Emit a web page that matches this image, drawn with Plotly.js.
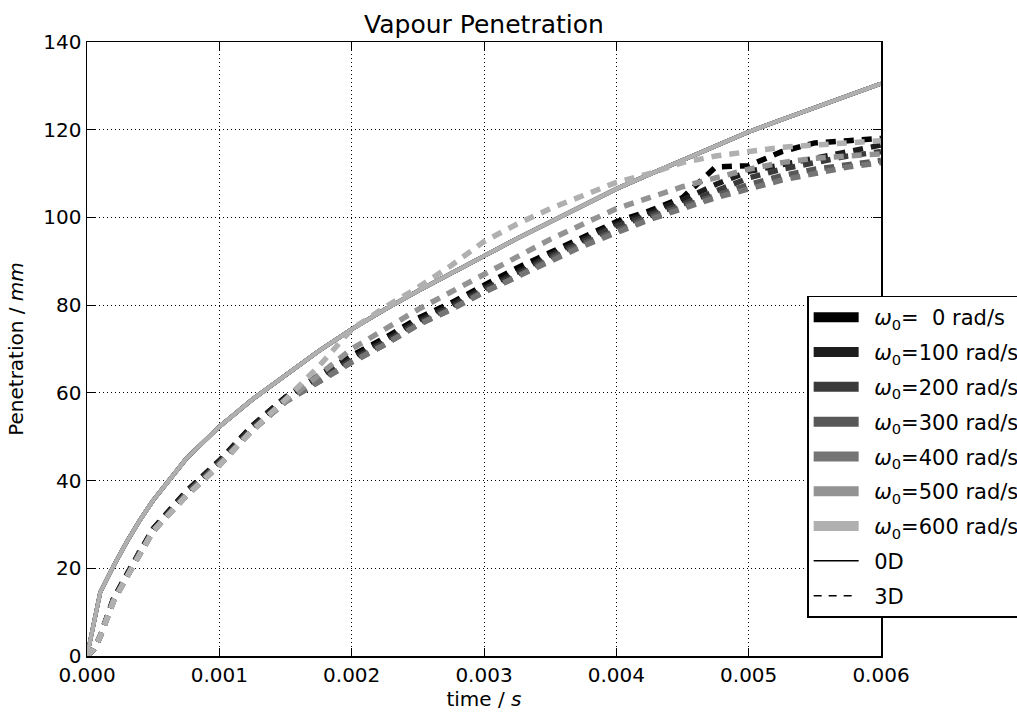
<!DOCTYPE html>
<html>
<head>
<meta charset="utf-8">
<script src="https://cdn.plot.ly/plotly-3.0.1.min.js"></script>
<style>
  html, body { margin: 0; padding: 0; background: #fff; }
  #chart { width: 1017px; height: 713px; }
</style>
</head>
<body>
<div id="chart"></div>
<script>
// time (s)
var time = [0, 0.00005, 0.0001, 0.0002, 0.0003, 0.0004, 0.0005, 0.00075, 0.001, 0.00125,
            0.0015, 0.00175, 0.002, 0.00225, 0.0025, 0.00275, 0.003, 0.00325, 0.0035, 0.00375,
            0.004, 0.00425, 0.0045, 0.00475, 0.005, 0.00525, 0.0055, 0.00575, 0.006];

// 0D model penetration (mm) - identical for all rotation speeds
var pen0D = [0, 7.6, 14.5, 20.5, 26, 31, 35.5, 45, 52.3, 58.5,
             64, 69.5, 74.5, 79, 83.2, 87.3, 91.2, 95.2, 99, 102.8,
             106.5, 109.8, 113, 116.3, 119.5, 122.3, 125, 127.8, 130.5];

// 3D simulation penetration (mm)
var pen3D_0   = [0, 1.5, 4.5, 13, 18.5, 24, 29, 37.5, 44.5, 52.5, 59, 64, 68.5, 72.5, 77, 80.5, 84.5, 88.5, 92, 95.5, 99, 101.5, 104.5, 111.5, 111.8, 115, 117, 117.5, 118];
var pen3D_100 = [0, 1.5, 4.5, 13, 18.5, 24, 29, 37.5, 44.5, 52.5, 59, 63.5, 68, 72, 76.5, 80, 84, 87.5, 91.5, 95, 98.5, 101, 104, 107.5, 110.5, 112, 113.5, 115, 116.5];
var pen3D_200 = [0, 1.5, 4.5, 13, 18, 24, 28.5, 37, 44, 52, 58.5, 63, 67.5, 71.5, 76, 79.5, 83.5, 87, 91, 94.5, 98, 100.5, 103, 106, 109, 111, 112.5, 114, 115];
var pen3D_300 = [0, 1.5, 4.5, 12.5, 18, 23.5, 28.5, 37, 44, 51.5, 58, 62.5, 67, 71, 75.5, 79, 83, 86.5, 90.5, 94, 97, 100, 102.5, 105, 107.5, 109.5, 111, 112, 113];
var pen3D_400 = [0, 1.5, 4.5, 12.5, 18, 23.5, 28.5, 36.5, 43.5, 51.5, 58, 62.5, 67, 71, 75.5, 79, 83, 86.5, 90, 93.5, 96.5, 99.5, 102, 104.5, 106.5, 108.5, 110, 111.5, 112.5];
var pen3D_500 = [0, 1.5, 4.5, 12.5, 18, 23.5, 28.5, 36.5, 43.5, 51.5, 58, 64, 70, 74.5, 79, 83, 87, 91, 95, 98.5, 102, 104.5, 107, 109, 111, 112.5, 113.5, 114, 114.5];
var pen3D_600 = [0, 1.5, 4.5, 12.5, 18, 23.5, 28.5, 36.5, 43.5, 51.5, 58.5, 66, 74.5, 79.5, 84, 89, 94.5, 98.5, 102, 105, 108, 110, 112.5, 114, 115, 116, 116.5, 117, 117.5];

var omegas = [0, 100, 200, 300, 400, 500, 600];
var pen3D = [pen3D_0, pen3D_100, pen3D_200, pen3D_300, pen3D_400, pen3D_500, pen3D_600];
var greys = ['#000000', '#1d1d1d', '#3a3a3a', '#585858', '#757575', '#939393', '#b0b0b0'];
var legendLabels = omegas.map(function (w) {
  var s = String(w);
  if (s.length < 3) s = '\u00a0\u00a0' + s;
  return '\u2002<i>ω</i><sub>0</sub>=' + s + ' rad/s';
});

var FONT = 'DejaVu Sans, sans-serif';
var traces = [];
for (var i = 0; i < omegas.length; i++) {
  traces.push({
    x: time, y: pen0D, mode: 'lines', showlegend: false, hoverinfo: 'skip',
    line: {color: greys[i], width: 4}
  });
  traces.push({
    x: time, y: pen3D[i], mode: 'lines', showlegend: false, hoverinfo: 'skip',
    line: {color: greys[i], width: 5.5, dash: '10px,8px'}
  });
}
// legend proxies
for (var j = 0; j < omegas.length; j++) {
  traces.push({
    x: [null], y: [null], mode: 'lines', name: legendLabels[j], legendgroup: 'g' + j,
    line: {color: greys[j], width: 15}
  });
}
traces.push({x: [null], y: [null], mode: 'lines', name: '\u20020D', legendgroup: 'g7', line: {color: '#000', width: 1.5}});
traces.push({x: [null], y: [null], mode: 'lines', name: '\u20023D', legendgroup: 'g8', line: {color: '#000', width: 1.5, dash: '8px,7px'}});

var axisCommon = {
  showline: true, linecolor: '#000', linewidth: 1.5, mirror: 'ticks',
  ticks: 'inside', ticklen: 8, tickwidth: 1, tickcolor: '#000',
  showgrid: true, gridcolor: '#000', gridwidth: 1, griddash: '1px,3px',
  zeroline: false, automargin: false, tickfont: {family: FONT, size: 20, color: '#000'}
};

var layout = {
  width: 1017, height: 713,
  margin: {l: 87, r: 136, t: 42, b: 57, pad: 0, autoexpand: false},
  paper_bgcolor: '#fff', plot_bgcolor: '#fff',
  font: {family: FONT, size: 20, color: '#000'},
  title: {text: 'Vapour Penetration', font: {family: FONT, size: 25, color: '#000'},
          x: 0.5, xref: 'paper', xanchor: 'center', y: 1, yref: 'paper', yanchor: 'bottom', pad: {b: 9}},
  xaxis: Object.assign({}, axisCommon, {
    range: [0, 0.006], dtick: 0.001, tick0: 0, tickformat: '.3f',
    title: {text: 'time / <i>s</i>', font: {family: FONT, size: 20, color: '#000'}, standoff: 6}
  }),
  yaxis: Object.assign({}, axisCommon, {
    range: [0, 140], dtick: 20, tick0: 0,
    title: {text: 'Penetration / <i>mm</i>', font: {family: FONT, size: 20, color: '#000'}, standoff: 14}
  }),
  legend: {
    x: 0.907, y: 0.587, xanchor: 'left', yanchor: 'top', xref: 'paper', yref: 'paper',
    bgcolor: '#fff', bordercolor: '#000', borderwidth: 1.5,
    font: {family: FONT, size: 21, color: '#000'},
    itemwidth: 45, tracegroupgap: 4.5, traceorder: 'grouped'
  },
  showlegend: true
};

Plotly.newPlot('chart', traces, layout, {staticPlot: true, displayModeBar: false});
</script>
</body>
</html>
